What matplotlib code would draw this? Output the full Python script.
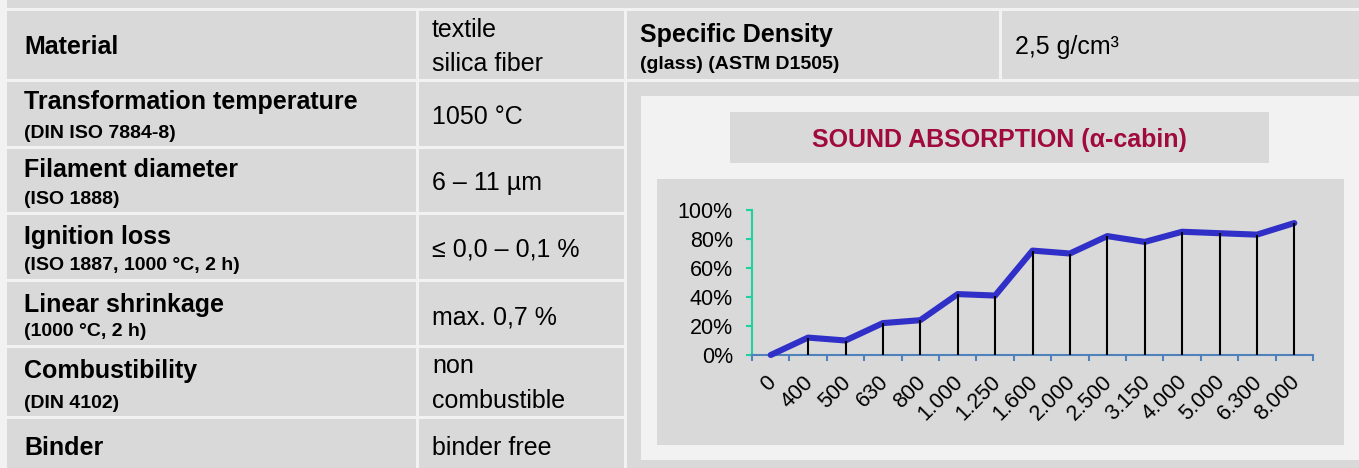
import matplotlib
matplotlib.use("Agg")
import matplotlib.pyplot as plt
from matplotlib.patches import Rectangle
from matplotlib.transforms import ScaledTranslation
import numpy as np

# ---------------- data ----------------
prop_names = ['Material', 'Transformation temperature', 'Filament diameter',
              'Ignition loss', 'Linear shrinkage', 'Combustibility', 'Binder']
prop_notes = ['', '(DIN ISO 7884-8)', '(ISO 1888)', '(ISO 1887, 1000 °C, 2 h)',
              '(1000 °C, 2 h)', '(DIN 4102)', '']
prop_values = [['textile', 'silica fiber'], ['1050 °C'], ['6 – 11 µm'],
               ['≤ 0,0 – 0,1 %'], ['max. 0,7 %'], ['non', 'combustible'],
               ['binder free']]
density_name = 'Specific Density'
density_note = '(glass) (ASTM D1505)'
density_value = '2,5 g/cm³'

chart_title = 'SOUND ABSORPTION (α-cabin)'
freq_labels = ['0', '400', '500', '630', '800', '1.000', '1.250', '1.600',
               '2.000', '2.500', '3.150', '4.000', '5.000', '6.300', '8.000']
absorption = [0, 12, 10, 22, 24, 42, 41, 72, 70, 82, 78, 85, 84, 83, 91]
y_ticks = [0, 20, 40, 60, 80, 100]
y_ticklabels = ['0%', '20%', '40%', '60%', '80%', '100%']

# ---------------- layout helpers ----------------
W, H = 1359, 468
FONT = ['Liberation Sans', 'DejaVu Sans']
LIGHT = '#f2f2f2'
GRAY = '#d9d9d9'

fig = plt.figure(figsize=(W / 100, H / 100), dpi=100)
fig.patch.set_facecolor(LIGHT)


def rect(x0, y0, x1, y1, color):
    fig.patches.append(Rectangle((x0 / W, 1 - y1 / H), (x1 - x0) / W, (y1 - y0) / H,
                                 transform=fig.transFigure, facecolor=color,
                                 edgecolor='none', zorder=-10))


def txt(x, y, s, size, bold=False, color='black', ha='left'):
    fig.text(x / W, 1 - y / H, s, fontsize=size, family=FONT,
             fontweight='bold' if bold else 'normal', color=color,
             ha=ha, va='baseline')


# top strip
rect(7, 0, W, 8, GRAY)
# left table cells
row_bounds = [(11, 79), (82, 146), (149, 212), (215, 279), (282, 345), (348, 416), (419, H)]
for (y0, y1) in row_bounds:
    rect(7, y0, 416, y1, GRAY)
    rect(419, y0, 624, y1, GRAY)
# right top cells
rect(627, 11, 999, 79, GRAY)
rect(1002, 11, W, 79, GRAY)
# right lower cell with chart
rect(627, 82, W, H, GRAY)
rect(641, 96, W, 460, LIGHT)
rect(730, 112, 1269, 163, GRAY)
rect(657, 179, 1344, 445, GRAY)

# table text
name_base = [54, 109.3, 176.7, 243.5, 311.7, 378.3, 455]
note_base = [None, 137.5, 204, 269.5, 336.5, 408.3, None]
value_base = [[36.7, 70.7], [124], [190], [256.7], [325], [373.3, 408.3], [455]]
for i, name in enumerate(prop_names):
    txt(24, name_base[i], name, 18, bold=True)
    if prop_notes[i]:
        txt(24, note_base[i], prop_notes[i], 14, bold=True)
    for line, yb in zip(prop_values[i], value_base[i]):
        txt(432, yb, line, 18)

txt(640, 41.7, density_name, 18, bold=True)
txt(640, 69, density_note, 14, bold=True)
txt(1015, 54, density_value, 18)

txt(999.5, 146.5, chart_title, 18, bold=True, color='#a00a3c', ha='center')

# ---------------- chart ----------------
ax_x0, ax_x1, ax_y0, ax_y1 = 752, 1313, 210, 355
ax = fig.add_axes([ax_x0 / W, 1 - ax_y1 / H, (ax_x1 - ax_x0) / W, (ax_y1 - ax_y0) / H])
ax.set_facecolor('none')
n = len(freq_labels)
centers = np.arange(n) + 0.5
ax.set_xlim(0, n)
ax.set_ylim(0, 100)

ax.vlines(centers, 0, absorption, color='black', lw=1.5, zorder=4)
ax.plot(centers, absorption, color='#3030c8', lw=4.4, solid_capstyle='round',
        solid_joinstyle='round', zorder=3, clip_on=False)

for s in ['top', 'right']:
    ax.spines[s].set_visible(False)
TEAL = '#1ed19e'
BLUE = '#4f81bd'
ax.spines['left'].set_color(TEAL)
ax.spines['left'].set_linewidth(1.5)
ax.spines['bottom'].set_color(BLUE)
ax.spines['bottom'].set_linewidth(1.5)

ax.set_yticks(y_ticks)
ax.set_yticklabels(y_ticklabels, family=FONT)
ax.tick_params(axis='y', direction='out', length=4.3, width=1.5, color=TEAL,
               pad=9.4, labelsize=15.5, labelcolor='black')

ax.set_xticks(np.arange(n + 1))
ax.set_xticklabels([])
ax.tick_params(axis='x', which='major', direction='out', length=4.5, width=1.5, color=BLUE)
ax.set_xticks(centers, minor=True)
ax.set_xticklabels(freq_labels, minor=True, rotation=45, ha='right', va='top',
                   rotation_mode='anchor', family=FONT)
ax.tick_params(axis='x', which='minor', length=0, pad=12, labelsize=15.5, labelcolor='black')
offset = ScaledTranslation(-5 / 100, 0, fig.dpi_scale_trans)
for lab in ax.get_xticklabels(minor=True):
    lab.set_transform(lab.get_transform() + offset)

fig.savefig('out.png', dpi=100, facecolor=LIGHT)
